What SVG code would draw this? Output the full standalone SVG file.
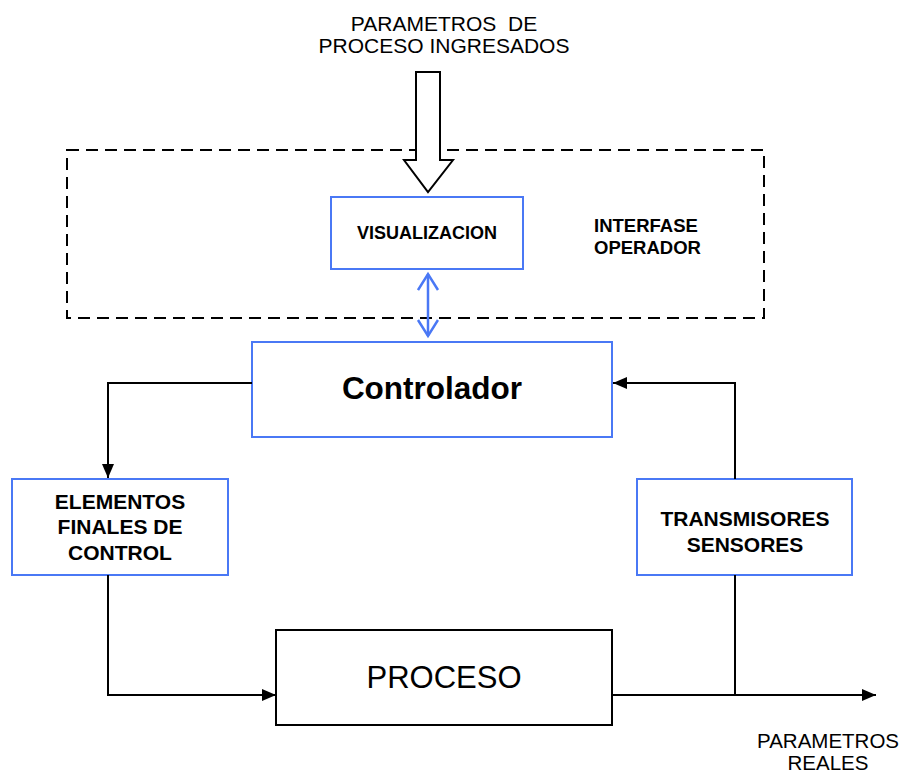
<svg xmlns="http://www.w3.org/2000/svg" width="906" height="775" viewBox="0 0 906 775">
<style>
text{font-family:"Liberation Sans",Arial,sans-serif;fill:#000}
.b{font-weight:bold}
.blue{fill:#fff;stroke:#4a78f5;stroke-width:2}
.blk{fill:#fff;stroke:#000;stroke-width:2}
.con{fill:none;stroke:#000;stroke-width:2}
</style>
<defs>
<marker id="ah" markerWidth="14" markerHeight="12" refX="14" refY="6" orient="auto" markerUnits="userSpaceOnUse">
<path d="M0,0 L14,6 L0,12 Z" fill="#000"/>
</marker>
<marker id="ch" markerWidth="20" markerHeight="24" refX="17" refY="11" orient="auto" markerUnits="userSpaceOnUse">
<path d="M1,1 L17,11 L1,21" fill="none" stroke="#4a78f5" stroke-width="2.5"/>
</marker>
</defs>
<rect width="906" height="775" fill="#fff"/>

<g id="interfase">
<rect x="67" y="150" width="697" height="168" fill="none" stroke="#000" stroke-width="2" stroke-dasharray="12,7"/>
<text class="b" x="594" y="232" font-size="18.5">INTERFASE</text>
<text class="b" x="594" y="254" font-size="18.5">OPERADOR</text>
</g>

<g id="entrada">
<text x="444" y="31" font-size="21" text-anchor="middle" xml:space="preserve">PARAMETROS  DE</text>
<text x="444" y="53" font-size="21" text-anchor="middle">PROCESO INGRESADOS</text>
<polygon points="416,72 440,72 440,160 453,160 428,192 404,160 416,160" fill="#fff" stroke="#000" stroke-width="2"/>
</g>

<g id="visualizacion">
<rect class="blue" x="331" y="197" width="192" height="72"/>
<text class="b" x="427" y="239" font-size="18" text-anchor="middle">VISUALIZACION</text>
</g>

<g id="controlador">
<rect class="blue" x="252" y="342" width="360" height="95"/>
<text class="b" x="432" y="399" font-size="31.5" text-anchor="middle">Controlador</text>
</g>

<g id="elementos">
<rect class="blue" x="12" y="479" width="216" height="96"/>
<text class="b" x="120" y="509" font-size="21" text-anchor="middle">ELEMENTOS</text>
<text class="b" x="120" y="534" font-size="21" text-anchor="middle">FINALES DE</text>
<text class="b" x="120" y="560" font-size="21" text-anchor="middle">CONTROL</text>
</g>

<g id="transmisores">
<rect class="blue" x="637" y="479" width="215" height="96"/>
<text class="b" x="745" y="526" font-size="21" text-anchor="middle">TRANSMISORES</text>
<text class="b" x="745" y="552" font-size="21" text-anchor="middle">SENSORES</text>
</g>

<g id="proceso">
<rect class="blk" x="276" y="630" width="336" height="95"/>
<text x="444" y="688" font-size="31" text-anchor="middle">PROCESO</text>
</g>

<g id="salida">
<text x="828" y="748" font-size="20.5" text-anchor="middle">PARAMETROS</text>
<text x="828" y="770" font-size="20.5" text-anchor="middle">REALES</text>
</g>

<g id="connectors">
<line x1="428" y1="305" x2="428" y2="274" stroke="#4a78f5" stroke-width="2.5" marker-end="url(#ch)"/>
<line x1="428" y1="305" x2="428" y2="336" stroke="#4a78f5" stroke-width="2.5" marker-end="url(#ch)"/>
<polyline class="con" points="252,383 108,383 108,478" marker-end="url(#ah)"/>
<polyline class="con" points="735,479 735,383 613,383" marker-end="url(#ah)"/>
<polyline class="con" points="108,575 108,695 276,695" marker-end="url(#ah)"/>
<line class="con" x1="612" y1="695" x2="876" y2="695" marker-end="url(#ah)"/>
<line class="con" x1="735" y1="575" x2="735" y2="695"/>
</g>
</svg>
